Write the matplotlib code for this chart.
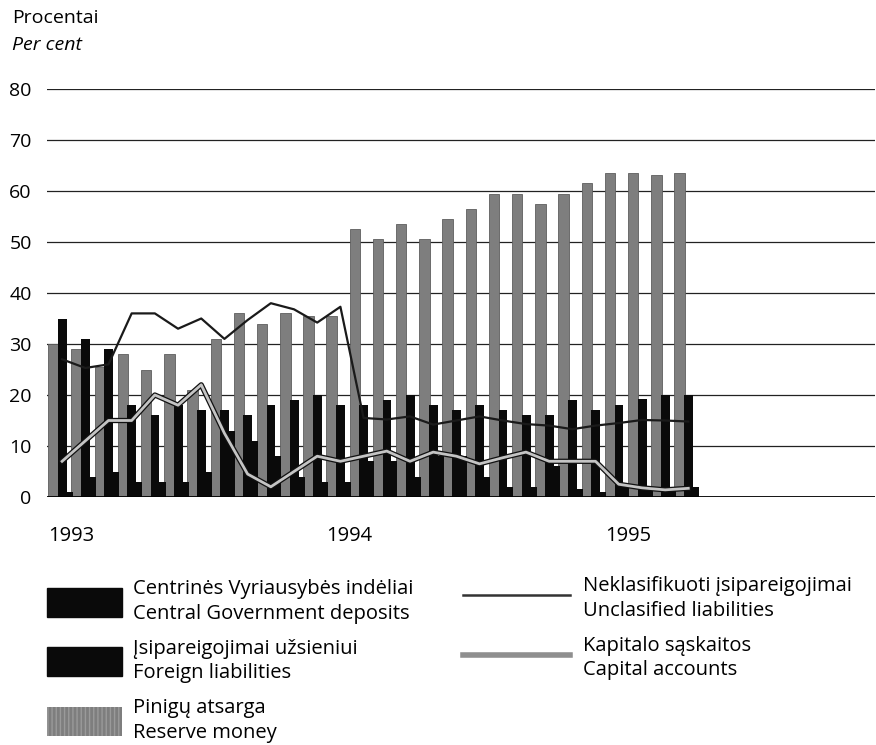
import matplotlib
matplotlib.use("Agg")
import matplotlib.pyplot as plt
import matplotlib.patheffects as pe
from matplotlib.patches import Patch
from matplotlib.lines import Line2D
import numpy as np

plt.rcParams['font.family'] = ['Open Sans', 'DejaVu Sans']

# monthly data, Jan 1993 .. Apr 1995
reserve_money = [30, 29, 25.5, 28, 25, 28, 21, 31, 36, 34, 36, 35.5, 35.5,
                 52.5, 50.5, 53.5, 50.5, 54.5, 56.5, 59.5, 59.5, 57.5, 59.5, 61.5,
                 63.5, 63.5, 63.2, 63.5]
foreign_liab = [35, 31, 29, 18, 16, 18, 17, 17, 16, 18, 19, 20, 18,
                18, 19, 20, 18, 17, 18, 17, 16, 16, 19, 17,
                18, 19.3, 20, 20]
cg_deposits = [1, 4, 5, 3, 3, 3, 5, 13, 11, 8, 4, 3, 3,
               7, 7, 4, 8, 8, 4, 2, 2, 6, 1.5, 1,
               2.5, 1.5, 1.5, 2]
unclassified = [27, 25.3, 26, 36, 36, 33, 35, 31, 34.7, 38, 36.8, 34.2, 37.3,
                15.5, 15.2, 15.8, 14.2, 15, 15.8, 15, 14.3, 14, 13.3, 14,
                14.5, 15.1, 15, 14.8]
capital = [7, 11, 15, 15, 20, 18, 22, 12.5, 4.5, 2, 5, 8, 7,
           8, 9, 7, 8.8, 8, 6.5, 7.7, 8.8, 7, 7, 7,
           2.5, 1.8, 1.4, 1.7]
year_ticks = [0, 12, 24]
year_labels = ['1993', '1994', '1995']
y_ticks = [0, 10, 20, 30, 40, 50, 60, 70, 80]

fig = plt.figure(figsize=(8.76, 7.45), dpi=100)
ax = fig.add_axes([47/876, (745-497)/745, (875-47)/876, (497-89)/745])

n = len(reserve_money)
x = np.arange(n)
ax.bar(x + 0.0, reserve_money, width=0.45, align='edge', color='#7e7e7e',
       edgecolor='#5e5e5e', linewidth=0.6, zorder=2)
ax.bar(x + 0.42, foreign_liab, width=0.38, align='edge', color='#0a0a0a', zorder=3)
ax.bar(x + 0.79, cg_deposits, width=0.27, align='edge', color='#0a0a0a', zorder=3)

ax.plot(x + 0.6, unclassified, color='#1a1a1a', lw=1.6, zorder=5)
ax.plot(x + 0.6, capital, color='#c4c4c4', lw=2.0, zorder=6,
        path_effects=[pe.Stroke(linewidth=3.8, foreground='#111111'), pe.Normal()])

ax.set_xlim(-0.05, 35.65)
ax.set_ylim(0, 80)
ax.set_yticks(y_ticks)
ax.set_yticklabels([str(v) for v in y_ticks], fontsize=14)
ax.grid(axis='y', color='#222222', linewidth=0.9, zorder=0)
ax.set_axisbelow(True)
ax.axhline(0, color='black', lw=2.0, zorder=4)
ax.set_xticks(year_ticks)
ax.set_xticklabels(year_labels, fontsize=14.5, ha='left')
ax.tick_params(axis='x', length=0, pad=21)
ax.tick_params(axis='y', length=0, pad=11)
for s in ax.spines.values():
    s.set_visible(False)

fig.text(12/876, 1 - 18/745, 'Procentai', fontsize=14, va='center', ha='left')
fig.text(12/876, 1 - 45/745, 'Per cent', fontsize=14, va='center', ha='left', style='italic')

fs = 14.5
left_handles = [
    Patch(facecolor='#0a0a0a', edgecolor='#0a0a0a'),
    Patch(facecolor='#0a0a0a', edgecolor='#0a0a0a'),
    Patch(facecolor='#7e7e7e', edgecolor='#9a9a9a', hatch='||||', linewidth=0),
]
left_labels = [
    'Centrinės Vyriausybės indėliai\nCentral Government deposits',
    'Įsipareigojimai užsieniui\nForeign liabilities',
    'Pinigų atsarga\nReserve money',
]
right_handles = [
    Line2D([0], [0], color='#333333', lw=1.8),
    Line2D([0], [0], color='#8f8f8f', lw=4.0),
]
right_labels = [
    'Neklasifikuoti įsipareigojimai\nUnclasified liabilities',
    'Kapitalo sąskaitos\nCapital accounts',
]
leg1 = fig.legend(left_handles, left_labels, loc='upper left',
                  bbox_to_anchor=(47/876, 1 - 579/745), frameon=False,
                  prop={'size': fs}, handlelength=3.73, handleheight=1.85,
                  handletextpad=0.55, labelspacing=0.75,
                  borderaxespad=0, borderpad=0)
leg2 = fig.legend(right_handles, right_labels, loc='upper left',
                  bbox_to_anchor=(463/876, 1 - 576/745), frameon=False,
                  prop={'size': fs}, handlelength=5.3, handleheight=1.85,
                  handletextpad=0.65, labelspacing=0.75,
                  borderaxespad=0, borderpad=0)
for leg in (leg1, leg2):
    for t in leg.get_texts():
        t.set_linespacing(1.3)

fig.savefig('out.png', dpi=100)
